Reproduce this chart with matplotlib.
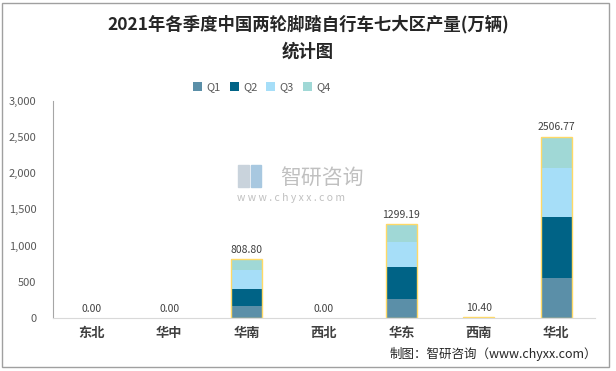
import numpy as np
import matplotlib
matplotlib.use('Agg')
import matplotlib.pyplot as plt
from matplotlib.patches import Rectangle
from matplotlib.ticker import FuncFormatter

plt.rcParams['font.family'] = ['Noto Sans CJK SC', 'DejaVu Sans']

# 数据 (万辆)
regions = ['东北', '华中', '华南', '西北', '华东', '西南', '华北']
q1 = [0, 0, 170, 0, 260, 2.5, 552]
q2 = [0, 0, 225, 0, 449, 2.7, 838]
q3 = [0, 0, 270, 0, 344, 2.6, 681]
q4 = [0, 0, 143.8, 0, 246.19, 2.6, 435.77]
totals = [0.00, 0.00, 808.80, 0.00, 1299.19, 10.40, 2506.77]
series_names = ['Q1', 'Q2', 'Q3', 'Q4']
colors = ['#5b8fa8', '#006386', '#a6def8', '#a0d8d6']

fig = plt.figure(figsize=(6.16, 3.71), dpi=100)
ax = fig.add_axes([0.086, 0.143, 0.88, 0.585])

x = np.arange(len(regions))
width = 0.4
bottom = np.zeros(len(regions))
handles = []
for vals, name, c in zip([q1, q2, q3, q4], series_names, colors):
    h = ax.bar(x, vals, width, bottom=bottom, color=c, label=name, linewidth=0)
    handles.append(h)
    bottom += np.array(vals)

# 合计外框 (零值不画)
for xi, t in zip(x, totals):
    if t > 0:
        ax.bar(xi, t, width, color='none', edgecolor='#ffd966', linewidth=1.0)
    ax.text(xi, t + 60, f'{t:.2f}', ha='center', va='bottom', fontsize=7.5, color='#404040')

ax.set_xlim(-0.5, 6.5)
ax.set_ylim(0, 3000)
ax.set_yticks(np.arange(0, 3001, 500))
ax.yaxis.set_major_formatter(FuncFormatter(lambda v, p: f'{int(v):,}'))
ax.set_xticks(x)
ax.set_xticklabels(regions, fontsize=9.5, fontweight='bold', color='#404040')
ax.tick_params(axis='y', labelsize=8, colors='#595959', length=0, pad=12)
ax.tick_params(axis='x', length=0, pad=6)
for s in ['top', 'right']:
    ax.spines[s].set_visible(False)
ax.spines['left'].set_color('#a6a6a6')
ax.spines['bottom'].set_color('#d9d9d9')

fig.legend(handles=handles, labels=series_names, loc='center', bbox_to_anchor=(0.425, 0.765),
           ncol=4, frameon=False, fontsize=8, handlelength=0.8, handleheight=0.8,
           handletextpad=0.4, columnspacing=0.8, labelcolor='#595959')

fig.text(0.5, 0.935, '2021年各季度中国两轮脚踏自行车七大区产量(万辆)', ha='center', va='center',
         fontsize=12.5, fontweight='bold', color='#262626')
fig.text(0.5, 0.86, '统计图', ha='center', va='center', fontsize=12.5, fontweight='bold', color='#262626')

# 水印
fig.text(0.455, 0.52, '智研咨询', ha='left', va='center', fontsize=15, color='#c0c0c0')
fig.text(0.385, 0.467, 'w w w . c h y x x . c o m', ha='left', va='center', fontsize=7.5, color='#c0c0c0')
fig.patches.append(Rectangle((0.387, 0.495), 0.018, 0.06, transform=fig.transFigure, color='#c9d3dc'))
fig.patches.append(Rectangle((0.408, 0.495), 0.016, 0.06, transform=fig.transFigure, color='#a8c8e0'))

fig.text(0.97, 0.045, '制图：智研咨询（www.chyxx.com）', ha='right', va='center', fontsize=9, color='#262626')

fig.patches.append(Rectangle((0.004, 0.012), 0.984, 0.98, transform=fig.transFigure,
                             fill=False, edgecolor='#a0a0a0', linewidth=1))

fig.savefig('out.png', dpi=100)
